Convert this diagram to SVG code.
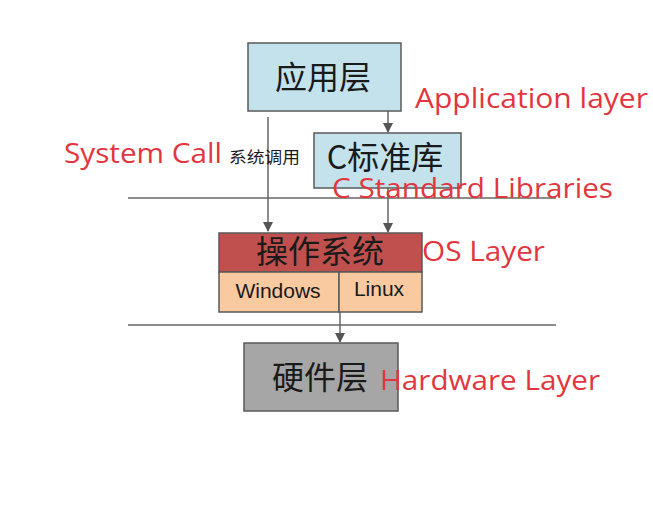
<svg xmlns="http://www.w3.org/2000/svg" width="653" height="514" viewBox="0 0 653 514">
<defs>
<marker id="ah" markerWidth="10" markerHeight="10" refX="9" refY="5" orient="auto" markerUnits="userSpaceOnUse">
<path d="M0,0 L10,5 L0,10 z" fill="#555"/>
</marker>
<style>
.box{stroke:#5a5a5a;stroke-width:1.5}
.cn{font-family:"Noto Sans CJK SC",sans-serif;fill:#1a1a1a;text-anchor:middle;font-size:32px}
.en{font-family:"Liberation Sans",Arial,sans-serif;fill:#1a1a1a;text-anchor:middle;font-size:21px}
.red{font-family:"Open Sans","Noto Sans",sans-serif;fill:#e2363f;font-size:28px}
.ln{stroke:#666;stroke-width:1.5;fill:none}
</style>
</defs>
<rect width="653" height="514" fill="#fff"/>
<g id="connectors">
<line class="ln" x1="128" y1="198" x2="556" y2="198"/>
<line class="ln" x1="128" y1="325" x2="556" y2="325"/>
<line class="ln" x1="388" y1="111" x2="388" y2="132" marker-end="url(#ah)"/>
<line class="ln" x1="268" y1="117" x2="268" y2="231" marker-end="url(#ah)"/>
<line class="ln" x1="388" y1="188" x2="388" y2="232" marker-end="url(#ah)"/>
<line class="ln" x1="340" y1="312" x2="340" y2="342" marker-end="url(#ah)"/>
</g>
<g id="app">
<rect class="box" x="248" y="43" width="153" height="68" fill="#c3e2ec"/>
<text class="cn" x="323" y="89">应用层</text>
</g>
<g id="clib">
<rect class="box" x="314" y="133" width="147" height="55" fill="#c3e2ec"/>
<text class="cn" x="385" y="169">C标准库</text>
</g>
<g id="os">
<rect class="box" x="219" y="233" width="203" height="39" fill="#c0504d"/>
<text class="cn" x="320" y="263">操作系统</text>
<rect class="box" x="219" y="272" width="120" height="40" fill="#f9c9a0"/>
<rect class="box" x="339" y="272" width="83" height="40" fill="#f9c9a0"/>
<text class="en" x="278" y="298">Windows</text>
<text class="en" x="379" y="296">Linux</text>
</g>
<g id="hw">
<rect class="box" x="244" y="343" width="154" height="68" fill="#a6a6a6"/>
<text class="cn" x="320" y="389">硬件层</text>
</g>
<g id="labels">
<text class="red" x="415" y="108" textLength="233" lengthAdjust="spacingAndGlyphs">Application layer</text>
<text class="red" x="64" y="163" textLength="158" lengthAdjust="spacingAndGlyphs">System Call</text>
<text class="cn" x="229" y="163" style="font-size:16px;text-anchor:start" textLength="71" lengthAdjust="spacingAndGlyphs">系统调用</text>
<text class="red" x="332" y="198" textLength="281" lengthAdjust="spacingAndGlyphs">C Standard Libraries</text>
<text class="red" x="422" y="261" textLength="123" lengthAdjust="spacingAndGlyphs">OS Layer</text>
<text class="red" x="380" y="390" textLength="220" lengthAdjust="spacingAndGlyphs">Hardware Layer</text>
</g>
</svg>
